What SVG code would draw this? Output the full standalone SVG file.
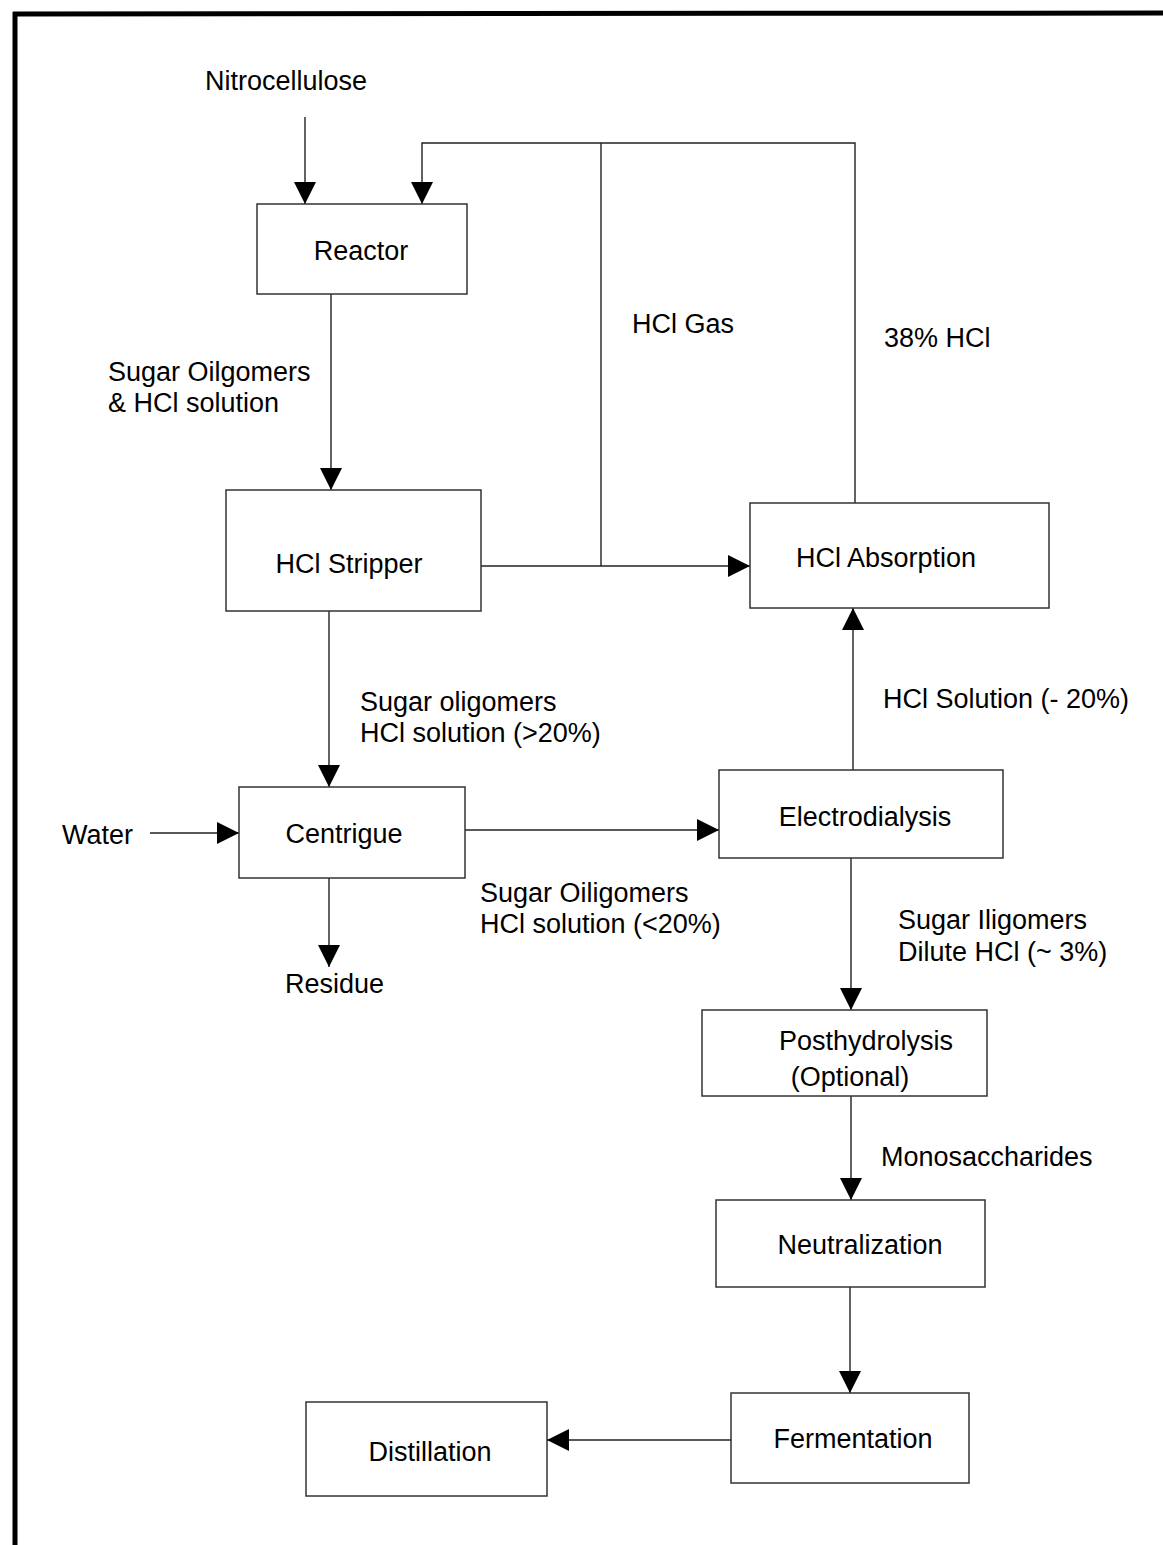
<svg xmlns="http://www.w3.org/2000/svg" width="1163" height="1545" viewBox="0 0 1163 1545">
<defs>
<marker id="ah" viewBox="0 0 22 22" refX="22" refY="11" markerWidth="22" markerHeight="22" markerUnits="userSpaceOnUse" orient="auto">
<path d="M0,0 L22,11 L0,22 Z" fill="#000"/>
</marker>
<style>
.box{fill:#fff;stroke:#333;stroke-width:1.5}
.ln{fill:none;stroke:#222;stroke-width:1.4}
.arr{fill:none;stroke:#222;stroke-width:1.4;marker-end:url(#ah)}
text{font-family:"Liberation Sans",Arial,sans-serif;font-size:27px;fill:#000}
.c{text-anchor:middle}
</style>
</defs>
<rect width="1163" height="1545" fill="#fff"/>
<g id="frame">
<line x1="13" y1="14" x2="1163" y2="13" stroke="#000" stroke-width="5"/>
<line x1="15" y1="12" x2="15" y2="1545" stroke="#000" stroke-width="5"/>
</g>
<g id="connectors">
<line class="arr" x1="305" y1="117" x2="305" y2="204"/>
<polyline class="arr" points="855,503 855,143 422,143 422,204"/>
<line class="ln" x1="601" y1="143" x2="601" y2="566"/>
<line class="arr" x1="481" y1="566" x2="750" y2="566"/>
<line class="arr" x1="331" y1="294" x2="331" y2="490"/>
<line class="arr" x1="329" y1="611" x2="329" y2="787"/>
<line class="arr" x1="150" y1="833" x2="239" y2="833"/>
<line class="arr" x1="465" y1="830" x2="719" y2="830"/>
<line class="arr" x1="329" y1="878" x2="329" y2="967"/>
<line class="arr" x1="853" y1="770" x2="853" y2="608"/>
<line class="arr" x1="851" y1="858" x2="851" y2="1010"/>
<line class="arr" x1="851" y1="1096" x2="851" y2="1200"/>
<line class="arr" x1="850" y1="1287" x2="850" y2="1393"/>
<line class="arr" x1="731" y1="1440" x2="547" y2="1440"/>
</g>
<g id="reactor"><rect class="box" x="257" y="204" width="210" height="90"/><text class="c" x="361" y="260">Reactor</text></g>
<g id="hcl-stripper"><rect class="box" x="226" y="490" width="255" height="121"/><text class="c" x="349" y="573">HCl Stripper</text></g>
<g id="hcl-absorption"><rect class="box" x="750" y="503" width="299" height="105"/><text class="c" x="886" y="567">HCl Absorption</text></g>
<g id="centrigue"><rect class="box" x="239" y="787" width="226" height="91"/><text class="c" x="344" y="843">Centrigue</text></g>
<g id="electrodialysis"><rect class="box" x="719" y="770" width="284" height="88"/><text class="c" x="865" y="826">Electrodialysis</text></g>
<g id="posthydrolysis"><rect class="box" x="702" y="1010" width="285" height="86"/><text class="c" x="866" y="1050">Posthydrolysis</text><text class="c" x="850" y="1086">(Optional)</text></g>
<g id="neutralization"><rect class="box" x="716" y="1200" width="269" height="87"/><text class="c" x="860" y="1254">Neutralization</text></g>
<g id="fermentation"><rect class="box" x="731" y="1393" width="238" height="90"/><text class="c" x="853" y="1448">Fermentation</text></g>
<g id="distillation"><rect class="box" x="306" y="1402" width="241" height="94"/><text class="c" x="430" y="1461">Distillation</text></g>
<g id="labels">
<text x="205" y="90">Nitrocellulose</text>
<text x="285" y="993">Residue</text>
<text x="62" y="844">Water</text>
<text x="108" y="381">Sugar Oilgomers</text>
<text x="108" y="412">&amp; HCl solution</text>
<text x="632" y="333">HCl Gas</text>
<text x="884" y="347">38% HCl</text>
<text x="360" y="711">Sugar oligomers</text>
<text x="360" y="742">HCl solution (&gt;20%)</text>
<text x="883" y="708">HCl Solution (- 20%)</text>
<text x="480" y="902">Sugar Oiligomers</text>
<text x="480" y="933">HCl solution (&lt;20%)</text>
<text x="898" y="929">Sugar Iligomers</text>
<text x="898" y="961">Dilute HCl (~ 3%)</text>
<text x="881" y="1166">Monosaccharides</text>
</g>
</svg>
